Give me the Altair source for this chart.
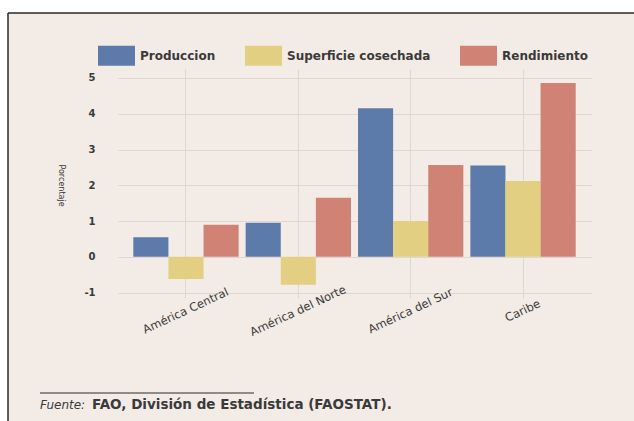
import altair as alt
import pandas as pd

# Annual change by region (percent)
regions = ["América Central", "América del Norte", "América del Sur", "Caribe"]
series = ["Produccion", "Superficie cosechada", "Rendimiento"]
produccion = [0.55, 0.95, 4.15, 2.55]
superficie = [-0.62, -0.78, 1.0, 2.12]
rendimiento = [0.9, 1.65, 2.57, 4.86]
y_ticks = [-1, 0, 1, 2, 3, 4, 5]

colors = ["#5C7BAA", "#E3CF82", "#D08274"]
BG = "#F3EBE6"
GRID = "#E0D6D0"
TEXT = "#3A3A3A"
FONT = "DejaVu Sans"

rows = []
for i, reg in enumerate(regions):
    for name, vals in zip(series, [produccion, superficie, rendimiento]):
        rows.append({"region": reg, "serie": name, "valor": vals[i]})
df = pd.DataFrame(rows)

W, H = 473, 229
LEFT, TOP = 118, 69
one = pd.DataFrame({"k": [0]})

bars = alt.Chart(df).mark_bar().encode(
    x=alt.X(
        "region:N",
        sort=regions,
        scale=alt.Scale(paddingInner=0, paddingOuter=0.105),
        axis=alt.Axis(
            title=None, grid=True, gridColor=GRID, gridWidth=1,
            domain=False, ticks=False, bandPosition=0.5,
            labelAngle=-25, labelAlign="center", labelBaseline="middle",
            labelPadding=13, labelFont=FONT, labelFontSize=11.5,
            labelColor=TEXT,
        ),
    ),
    xOffset=alt.XOffset(
        "serie:N", sort=series,
        scale=alt.Scale(paddingInner=0, paddingOuter=0.1),
    ),
    y=alt.Y(
        "valor:Q",
        scale=alt.Scale(domain=[-1.15, 5.25], nice=False, zero=False),
        axis=alt.Axis(
            title="Porcentaje", values=y_ticks, grid=True, gridColor=GRID,
            domain=False, ticks=False, labelPadding=23,
            labelExpr="toString(datum.value)",
            labelFont=FONT, labelFontSize=10, labelFontWeight="bold",
            labelColor=TEXT, titleAngle=90, titleX=-58, titleY=116,
            titleAlign="center", titleBaseline="middle",
            titleFont=FONT, titleFontSize=8, titleFontWeight="normal",
            titleColor=TEXT,
        ),
    ),
    color=alt.Color(
        "serie:N", sort=series,
        scale=alt.Scale(domain=series, range=colors),
        legend=alt.Legend(
            title=None, orient="none", legendX=-20, legendY=-32,
            direction="horizontal", symbolType="M-1,-0.54H1V0.54H-1Z",
            symbolSize=1369, symbolStrokeWidth=0, symbolOpacity=1,
            labelFont=FONT, labelFontSize=12, labelFontWeight="bold",
            labelColor=TEXT, labelOffset=5, columnPadding=29, padding=0,
        ),
    ),
)

# white margin outside the framed panel, and the frame's edges
margin_top = alt.Chart(one).mark_rect(color="white").encode(
    x=alt.value(-LEFT), x2=alt.value(634 - LEFT),
    y=alt.value(-TOP), y2=alt.value(13 - TOP),
)
margin_left = alt.Chart(one).mark_rect(color="white").encode(
    x=alt.value(-LEFT), x2=alt.value(8 - LEFT),
    y=alt.value(-TOP), y2=alt.value(421 - TOP),
)
edge_top = alt.Chart(one).mark_rule(color="#2A2A2A", strokeWidth=1.5).encode(
    x=alt.value(8 - LEFT), x2=alt.value(640 - LEFT), y=alt.value(13 - TOP),
)
edge_left = alt.Chart(one).mark_rule(color="#2A2A2A", strokeWidth=1.5).encode(
    x=alt.value(8 - LEFT), y=alt.value(13 - TOP), y2=alt.value(430 - TOP),
)

# source note
note_rule = alt.Chart(one).mark_rule(color="#2A2A2A", strokeWidth=1).encode(
    x=alt.value(40 - LEFT), x2=alt.value(254 - LEFT), y=alt.value(393 - TOP),
)
note_a = alt.Chart(one).mark_text(
    text="Fuente:", font=FONT, fontSize=12, fontStyle="italic",
    color=TEXT, align="left", baseline="middle",
).encode(x=alt.value(40 - LEFT), y=alt.value(405 - TOP))
note_b = alt.Chart(one).mark_text(
    text="FAO, División de Estadística (FAOSTAT).", font=FONT, fontSize=13.5,
    fontWeight="bold", color=TEXT, align="left", baseline="middle",
).encode(x=alt.value(92 - LEFT), y=alt.value(405 - TOP))

chart = alt.layer(
    bars, margin_top, margin_left, edge_top, edge_left,
    note_rule, note_a, note_b,
).properties(
    width=W, height=H,
    padding={"left": LEFT, "top": TOP, "right": 634 - LEFT - W,
             "bottom": 421 - TOP - H},
    autosize=alt.AutoSizeParams(type="none"),
    background=BG,
).configure_view(stroke=None)

chart.save("out.html", embed_options={"renderer": "svg", "actions": False})
